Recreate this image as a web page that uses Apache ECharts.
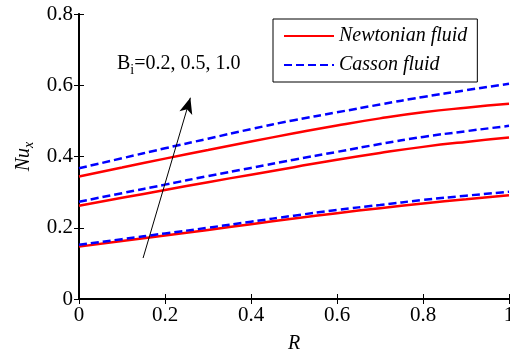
<!DOCTYPE html>
<html>
<head>
<meta charset="utf-8">
<script src="https://cdn.jsdelivr.net/npm/echarts@6/dist/echarts.min.js"></script>
<style>
  html, body { margin: 0; padding: 0; background: #fff; }
  #chart { width: 510px; height: 355px; }
</style>
</head>
<body>
<div id="chart"></div>
<script>
// R values along the x axis
const rValues = [0, 0.1, 0.2, 0.3, 0.4, 0.5, 0.6, 0.7, 0.8, 0.9, 1.0];

// Nu_x, Newtonian fluid, for Bi = 0.2, 0.5, 1.0
const newtonianBi02 = [0.147, 0.163, 0.178, 0.194, 0.210, 0.226, 0.241, 0.255, 0.268, 0.280, 0.291];
const newtonianBi05 = [0.262, 0.284, 0.306, 0.328, 0.349, 0.370, 0.391, 0.410, 0.427, 0.441, 0.453];
const newtonianBi10 = [0.344, 0.369, 0.394, 0.418, 0.442, 0.465, 0.487, 0.507, 0.524, 0.537, 0.548];

// Nu_x, Casson fluid, for Bi = 0.2, 0.5, 1.0
const cassonBi02 = [0.152, 0.168, 0.184, 0.200, 0.217, 0.234, 0.250, 0.264, 0.278, 0.290, 0.301];
const cassonBi05 = [0.273, 0.297, 0.321, 0.345, 0.368, 0.391, 0.413, 0.435, 0.455, 0.471, 0.486];
const cassonBi10 = [0.367, 0.395, 0.423, 0.450, 0.477, 0.502, 0.524, 0.546, 0.567, 0.586, 0.604];

const xTicks = [0, 0.2, 0.4, 0.6, 0.8, 1];
const yTicks = [0, 0.2, 0.4, 0.6, 0.8];

// arrow showing increasing Bi (data coords)
const arrowStart = [0.149, 0.115];
const arrowEnd = [0.259, 0.565];

const font = "'Liberation Serif', 'Times New Roman', serif";
const red = "#ff0000";
const blue = "#0000ff";

const pairs = (ys) => rValues.map((r, i) => [r, ys[i]]);

function newtonian(ys, extra) {
  return Object.assign({
    name: "Newtonian fluid",
    type: "line",
    data: pairs(ys),
    symbol: "none",
    smooth: true,
    lineStyle: { color: red, width: 2.5 },
    itemStyle: { color: red },
    z: 3,
  }, extra || {});
}

function casson(ys) {
  return {
    name: "Casson fluid",
    type: "line",
    data: pairs(ys),
    symbol: "none",
    smooth: true,
    lineStyle: { color: blue, width: 2.5, type: [8, 4] },
    itemStyle: { color: blue },
    z: 4,
  };
}

const chart = echarts.init(document.getElementById("chart"));

const labelFmt = (v) => {
  const hit = [...xTicks, ...yTicks].find((t) => Math.abs(t - v) < 1e-9);
  return hit === undefined ? "" : String(hit);
};

chart.setOption({
  animation: false,
  grid: { left: 79, right: 1, top: 14, bottom: 56, outerBoundsMode: "none", containLabel: false },
  legend: {
    left: 273,
    top: 19,
    orient: "vertical",
    data: ["Newtonian fluid", "Casson fluid"],
    itemWidth: 50,
    itemHeight: 10,
    itemGap: 9,
    padding: [7, 10, 7, 10],
    borderColor: "#000",
    borderWidth: 1,
    backgroundColor: "#fff",
    itemStyle: { opacity: 0 },
    textStyle: { fontFamily: font, fontStyle: "italic", fontSize: 20, color: "#000" },
  },
  xAxis: [
    {
      type: "value",
      min: 0,
      max: 1,
      interval: 0.2,
      name: "R",
      nameLocation: "middle",
      nameGap: 35,
      nameTextStyle: { fontFamily: font, fontStyle: "italic", fontSize: 20, color: "#000" },
      axisLine: { lineStyle: { color: "#000", width: 2 } },
      axisTick: { inside: true, length: 5, lineStyle: { color: "#000" } },
      axisLabel: { formatter: labelFmt, fontFamily: font, fontSize: 21, color: "#000", margin: 6 },
      splitLine: { show: false },
    },
    {
      type: "value",
      position: "top",
      min: 0,
      max: 1,
      interval: 0.2,
      axisLine: { lineStyle: { color: "#000", width: 1.5 } },
      axisTick: { inside: true, length: 5, lineStyle: { color: "#000" } },
      axisLabel: { show: false },
      splitLine: { show: false },
    },
  ],
  yAxis: [
    {
      type: "value",
      min: 0,
      max: 0.8,
      interval: 0.2,
      name: "{n|Nu}{s|x}",
      nameLocation: "middle",
      nameGap: 41,
      nameTextStyle: {
        rich: {
          n: { fontFamily: font, fontStyle: "italic", fontSize: 20, color: "#000" },
          s: { fontFamily: font, fontStyle: "italic", fontSize: 14, color: "#000", padding: [10, 0, 0, 0] },
        },
      },
      axisLine: { lineStyle: { color: "#000", width: 2 } },
      axisTick: { inside: true, length: 5, lineStyle: { color: "#000" } },
      axisLabel: { formatter: labelFmt, fontFamily: font, fontSize: 21, color: "#000", margin: 6 },
      splitLine: { show: false },
    },
    {
      type: "value",
      position: "right",
      min: 0,
      max: 0.8,
      interval: 0.2,
      axisLine: { lineStyle: { color: "#000", width: 1.5 } },
      axisTick: { inside: true, length: 5, lineStyle: { color: "#000" } },
      axisLabel: { show: false },
      splitLine: { show: false },
    },
  ],
  graphic: [
    {
      type: "text",
      left: 117,
      top: 54,
      style: {
        text: "B{s|i}=0.2, 0.5, 1.0",
        font: "20px " + font,
        fill: "#000",
        rich: {
          s: { fontFamily: font, fontSize: 14, fill: "#000", padding: [12, 0, 0, 0] },
        },
      },
    },
  ],
  series: [
    newtonian(newtonianBi10, {
      markLine: {
        silent: true,
        symbol: ["none", "arrow"],
        symbolSize: [10, 16],
        label: { show: false },
        lineStyle: { color: "#000", width: 1, type: "solid" },
        data: [[{ coord: arrowStart }, { coord: arrowEnd }]],
      },
    }),
    newtonian(newtonianBi05),
    newtonian(newtonianBi02),
    casson(cassonBi10),
    casson(cassonBi05),
    casson(cassonBi02),
  ],
});
</script>
</body>
</html>
